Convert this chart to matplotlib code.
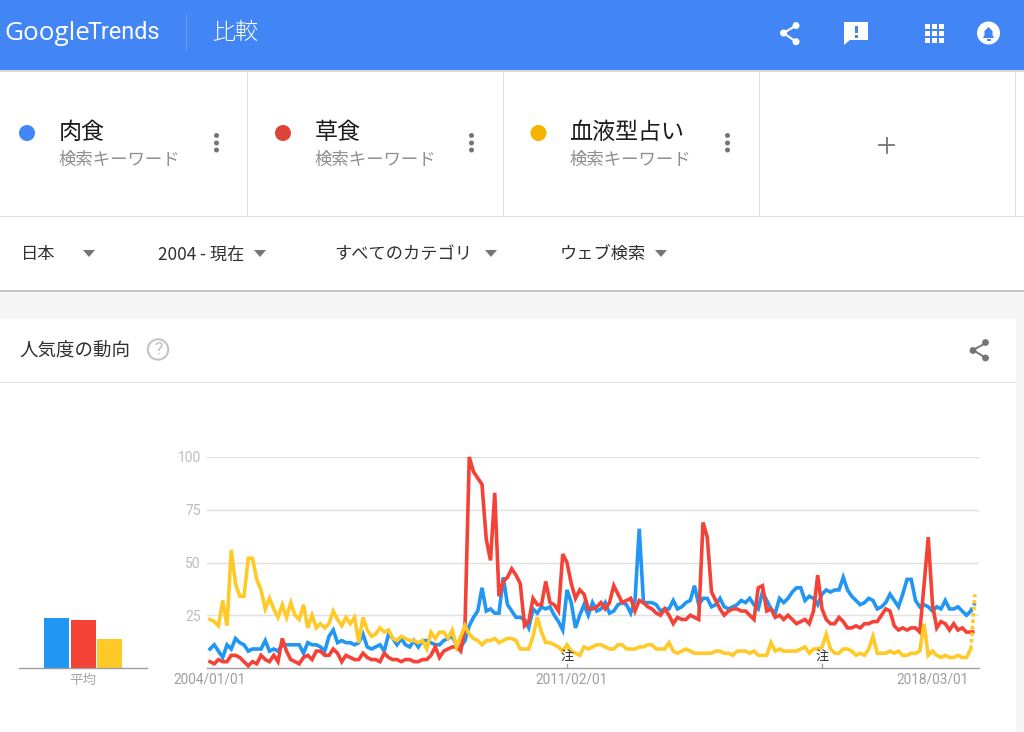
import numpy as np
import matplotlib
matplotlib.use("Agg")
import matplotlib.pyplot as plt
from matplotlib.patches import Rectangle, Circle, Polygon

JP = ['Noto Sans CJK JP', 'DejaVu Sans']
plt.rcParams['font.family'] = JP

blue = [9,11,8,5,11,9,14,12,11,8,
        9,9,9,13,8,9,8,11,11,11,
        11,11,7,12,11,11,10,8,15,18,
        12,13,12,12,11,12,16,10,9,10,
        11,8,16,14,11,14,11,10,13,10,
        13,13,12,11,11,13,14,15,11,10,
        13,20,24,27,38,27,28,26,26,43,
        30,27,24,24,23,19,28,26,29,28,
        29,25,22,18,37,31,19,25,30,25,
        31,27,28,31,26,27,30,31,30,26,
        32,66,31,31,31,30,27,28,28,32,
        28,29,31,32,39,30,33,33,29,30,
        33,29,28,29,30,32,31,33,30,28,
        36,32,28,26,33,31,33,36,38,38,
        32,34,33,30,35,37,36,37,37,43,
        37,34,32,30,31,33,32,28,29,31,
        35,32,29,35,42,42,32,29,30,29,
        27,29,28,32,28,28,29,27,25,27,
        31]
red = [3,2,4,3,3,6,6,5,3,1,
       3,2,6,4,3,6,3,14,8,4,
       3,2,5,6,4,8,8,6,6,9,
       7,3,6,5,4,4,7,5,4,4,
       3,7,5,4,4,3,4,4,3,3,
       4,4,6,10,5,8,9,10,10,8,
       20,100,93,90,87,61,51,83,34,41,
       43,47,44,40,20,22,33,30,30,41,
       31,30,27,54,50,40,33,37,35,28,
       28,29,31,28,31,39,35,31,32,33,
       27,32,31,29,28,26,25,28,25,21,
       24,23,23,25,24,23,69,62,36,32,
       28,25,27,28,28,27,27,25,23,38,
       39,27,28,24,25,23,25,23,21,22,
       23,21,27,44,28,23,21,21,24,22,
       19,19,20,19,21,21,22,22,25,28,
       27,20,18,19,18,19,19,17,39,62,
       30,19,22,21,18,21,18,19,17,17,
       17]
yellow = [23,22,20,32,20,56,40,34,34,52,
          52,42,37,28,33,28,24,30,24,31,
          25,23,30,19,25,19,21,19,21,27,
          23,20,24,21,24,12,24,18,15,16,
          19,17,18,14,13,15,14,13,13,12,
          13,9,17,14,17,17,14,18,10,15,
          20,16,14,13,11,13,13,14,12,13,
          14,14,13,9,9,9,15,24,17,12,
          12,11,10,8,11,8,7,6,10,9,
          10,11,11,10,9,9,11,11,9,9,
          9,10,10,11,11,9,9,9,12,8,
          7,8,9,8,7,7,7,7,7,8,
          8,7,7,6,8,8,8,7,8,6,
          6,6,12,8,9,8,8,8,8,9,
          10,7,9,9,10,16,9,7,7,9,
          9,8,6,7,6,9,15,7,7,7,
          8,7,8,6,6,7,7,8,21,6,
          8,6,5,6,5,5,6,5,5,9,
          35]
averages = [23.5, 22.8, 13.8]
terms = ['肉食', '草食', '血液型占い']
y_ticks = [25, 50, 75, 100]
x_tick_idx = [0, 85, 170]
x_tick_labels = ['2004/01/01', '2011/02/01', '2018/03/01']
note_idx = [84, 144]
filters = ['日本', '2004 - 現在', 'すべてのカテゴリ', 'ウェブ検索']

W, H = 1024, 732
C_LINE = ['#2196f3', '#f44336', '#ffca28']
C_DOT = ['#4285f4', '#db4437', '#f4b400']
fig = plt.figure(figsize=(W/100, H/100), dpi=100, facecolor='white')

bg = fig.add_axes([0, 0, 1, 1], zorder=0)
bg.set_xlim(0, W); bg.set_ylim(H, 0); bg.axis('off')

def rect(x, y, w, h, c, z=1):
    bg.add_patch(Rectangle((x, y), w, h, fc=c, ec='none', zorder=z))

rect(0, 291, W, 28, '#f5f5f5')
rect(1016, 319, 8, H-319, '#f5f5f5')
rect(0, 70, W, 2, '#d8d8d8', 2)
rect(0, 0, W, 70, '#4285f4', 3)
rect(0, 290, W, 2, '#c4c4c4', 2)
rect(0, 216, W, 1, '#e0e0e0')
rect(0, 382, 1016, 1, '#e0e0e0')
rect(186, 14, 1, 37, '#6b9ef6', 4)
for x in (247, 503, 759, 1015):
    rect(x, 70, 1, 146, '#e0e0e0')

bg.text(4, 33, 'Google', color='white', fontsize=18.8, family=['Open Sans'], va='center', zorder=5)
bg.text(87, 32.5, 'Trends', color='white', fontsize=16.8, family=['Roboto'], va='center', zorder=5)
bg.text(212, 32, '比較', color='white', fontsize=16.6, fontweight='light', va='center', zorder=5)

# header icons
share = [(783.5, 33), (796, 25.6), (796, 41.7)]
for b in share[1:]:
    bg.plot(*zip(share[0], b), color='white', lw=1.5, zorder=5)
for c in share:
    bg.add_patch(Circle(c, 3.5, fc='white', ec='none', zorder=5))
bg.add_patch(Polygon([(844, 22), (868, 22), (868, 40), (850, 40), (844, 45)], fc='white', ec='none', zorder=5))
rect(855, 26, 2.5, 7, '#4285f4', 6)
rect(855, 35, 2.5, 2.5, '#4285f4', 6)
for i in range(3):
    for j in range(3):
        rect(924.5+7*i, 24+7*j, 5, 5, 'white', 5)
bg.add_patch(Circle((988.5, 33), 11.5, fc='white', ec='none', zorder=5))
bg.add_patch(Polygon([(983, 38), (984.5, 35), (984.5, 31), (988.5, 27), (992.5, 31), (992.5, 35), (994, 38)],
                     fc='#4285f4', ec='none', zorder=6))
rect(986.5, 39, 4, 1.5, '#4285f4', 6)

# search-term cards
for term, c, dx, tx in zip(terms, C_DOT, (27, 283, 538.5), (58.5, 314.5, 569.5)):
    bg.add_patch(Circle((dx, 133), 8, fc=c, ec='none', zorder=3))
    bg.text(tx, 132.5, term, fontsize=16.6, color='#1c1c1c', va='center', zorder=3)
    bg.text(tx, 159.5, '検索キーワード', fontsize=12.5, color='#8f8f8f', va='center', zorder=3)
for x in (216.5, 471.5, 727.5):
    for y in (135.5, 143, 150):
        bg.add_patch(Circle((x, y), 2.5, fc='#757575', ec='none', zorder=3))
bg.plot([879, 894], [145, 145], color='#757575', lw=1.3, zorder=3)
bg.plot([886.5, 886.5], [137.5, 152.5], color='#757575', lw=1.3, zorder=3)

# filter row
for label, x, ax_ in zip(filters, (21, 158, 334, 560), (89, 260, 491, 661)):
    bg.text(x, 254.5, label, fontsize=12.4, color='#303030', va='center', zorder=3)
    bg.add_patch(Polygon([(ax_-6, 250), (ax_+6, 250), (ax_, 257)], fc='#757575', ec='none', zorder=3))

# card title
bg.text(19, 351, '人気度の動向', fontsize=13.3, color='#303030', va='center', zorder=3)
bg.add_patch(Circle((158, 349.5), 10.2, fc='none', ec='#c4c4c4', lw=1.5, zorder=3))
bg.text(158, 349.5, '?', fontsize=12.5, color='#bdbdbd', ha='center', va='center', family=['Roboto'], zorder=3)
for a, b in (((973, 350), (986, 343)), ((973, 350), (986, 358))):
    bg.plot(*zip(a, b), color='#757575', lw=1.4, zorder=3)
for c in ((973, 350.5), (985.5, 342.5), (985.5, 358)):
    bg.add_patch(Circle(c, 3.4, fc='#757575', ec='none', zorder=3))

def box(l, t, r, b):
    return [l/W, 1-b/H, (r-l)/W, (b-t)/H]

# average bars
ab = fig.add_axes(box(19, 457, 147, 668), zorder=2, facecolor='none')
ab.bar([0, 1, 2], averages, width=0.95, color=C_LINE)
x0 = -(44-19)/26.5 - 0.475
ab.set_xlim(x0, x0 + 128/26.5)
ab.set_ylim(0, 100)
ab.set_yticks([])
for s in ('top', 'left', 'right'):
    ab.spines[s].set_visible(False)
ab.spines['bottom'].set_color('#9e9e9e')
ab.spines['bottom'].set_linewidth(1)
ab.set_xticks([1])
ab.set_xticklabels(['平均'], fontsize=9.7, color='#a6a6a6')
ab.tick_params(axis='x', length=0, pad=3.5)

# main chart
ax = fig.add_axes(box(207, 457, 979, 668), zorder=2, facecolor='none')
per_month = 4.25
ax.set_xlim(-3/per_month, 769/per_month)
ax.set_ylim(0, 100)
for s in ('top', 'left', 'right'):
    ax.spines[s].set_visible(False)
ax.spines['bottom'].set_color('#9e9e9e')
ax.spines['bottom'].set_linewidth(1)
ax.set_yticks(y_ticks)
ax.set_yticklabels([str(v) for v in y_ticks], family=['Roboto'], fontsize=10, color='#bdbdbd')
ax.tick_params(axis='y', length=0, pad=4.5)
ax.grid(axis='y', color='#e0e0e0', lw=1)
ax.set_axisbelow(True)
ax.set_xticks(x_tick_idx)
ax.set_xticklabels(x_tick_labels, family=['Roboto'], fontsize=9.8, color='#9e9e9e')
ax.tick_params(axis='x', length=0, pad=3)

for series, c, z in zip((blue, red, yellow), C_LINE, (3, 4, 5)):
    x = np.arange(len(series))
    ax.plot(x[:-1], series[:-1], color=c, lw=2.6, zorder=z, solid_joinstyle='miter', clip_on=False)
    ax.plot(x[-2:], series[-2:], color=c, lw=2.6, ls=(0, (1, 0.8)), zorder=z, clip_on=False)

for i in note_idx:
    ax.plot([i, i], [0, 2], color='#9e9e9e', lw=1, zorder=6)
    ax.text(i, 5, '注', fontsize=9.5, color='#303030', ha='center', va='center', zorder=7)

fig.savefig('out.png', dpi=100, facecolor='white')
